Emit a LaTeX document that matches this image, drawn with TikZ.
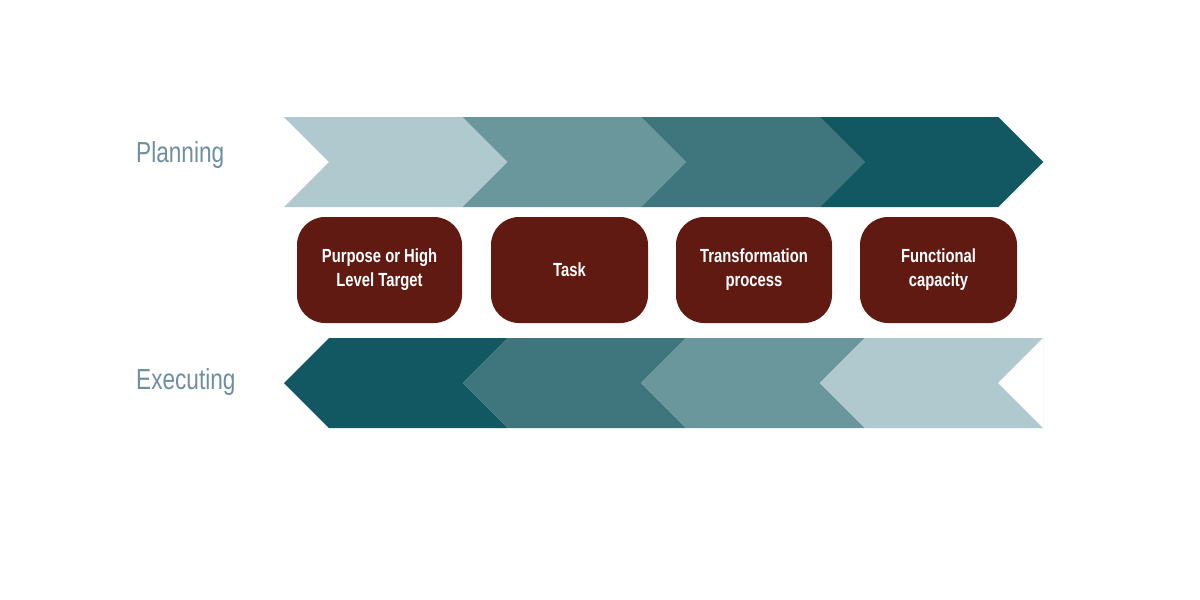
\documentclass[tikz,border=0pt]{standalone}
\usepackage{fontspec}
\setmainfont{Liberation Sans}
\usepackage{graphicx}
\definecolor{c1}{HTML}{B0C9CE}
\definecolor{c2}{HTML}{6A979C}
\definecolor{c3}{HTML}{3F767E}
\definecolor{c4}{HTML}{115862}
\definecolor{boxc}{HTML}{611A12}
\definecolor{lab}{HTML}{6F8FA0}
\tikzset{
 stepbox/.style={fill=boxc, rounded corners=28pt, draw=none, text=white, align=center, font=\fontsize{19}{24}\selectfont\bfseries},
 sidelabel/.style={text=lab, font=\fontsize{29}{34}\selectfont, anchor=west, inner sep=0pt}
}
\newcommand{\nar}[1]{\scalebox{0.78}[1]{#1}}
\begin{document}
\begin{tikzpicture}[x=1pt,y=-1pt]
\useasboundingbox (0,0) rectangle (1200,600);
% top chevrons (pointing right)
\foreach \i/\c in {0/c1,1/c2,2/c3,3/c4}{
  \pgfmathsetmacro{\xa}{284+178.6*\i}
  \fill[\c] (\xa,117) -- (\xa+178.6,117) -- (\xa+223.6,162) -- (\xa+178.6,207) -- (\xa,207) -- (\xa+45,162) -- cycle;
}
% bottom chevrons (pointing left)
\foreach \i/\c in {0/c4,1/c3,2/c2,3/c1}{
  \pgfmathsetmacro{\xa}{284+178.6*\i}
  \fill[\c] (\xa,383) -- (\xa+45,338) -- (\xa+223.6,338) -- (\xa+178.6,383) -- (\xa+223.6,428) -- (\xa+45,428) -- cycle;
}
\fill[c1] (998,383) -- (1043,338) -- (1043,428) -- cycle;
\fill[white] (998,383) -- (1043,338) -- (1043,428) -- cycle;
\node[sidelabel] (plan) at (136,155) {\nar{Planning}};
\node[sidelabel] (exec) at (136,382) {\nar{Executing}};
\node[stepbox, minimum width=165pt, minimum height=106pt] (b1) at (379.5,270) {\nar{Purpose or High}\\\nar{Level Target}};
\node[stepbox, minimum width=157pt, minimum height=106pt] (b2) at (569.5,270) {\nar{Task}};
\node[stepbox, minimum width=156pt, minimum height=106pt] (b3) at (754,270) {\nar{Transformation}\\\nar{process}};
\node[stepbox, minimum width=157pt, minimum height=106pt] (b4) at (938.5,270) {\nar{Functional}\\\nar{capacity}};
\end{tikzpicture}
\end{document}
